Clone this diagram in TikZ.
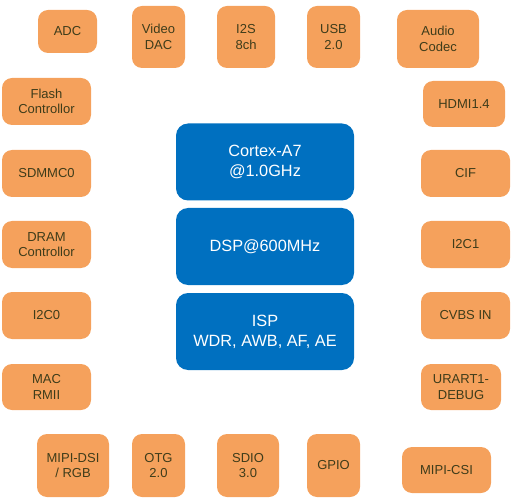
\documentclass[tikz,border=0pt]{standalone}
\usepackage{fontspec}
\setmainfont{Liberation Sans}
\usetikzlibrary{positioning}

\definecolor{periph_orange}{RGB}{245,161,92}
\definecolor{periph_text}{RGB}{62,60,26}
\definecolor{core_blue}{RGB}{0,112,192}

\begin{document}
\begin{tikzpicture}[
    x=1pt, y=-1pt,
    periph_style/.style={rectangle, rounded corners=10pt, fill=periph_orange,
        text=periph_text, font=\fontsize{13}{15.5}\selectfont, align=center,
        inner sep=0pt},
    core_style/.style={rectangle, rounded corners=12pt, fill=core_blue,
        text=white, font=\fontsize{16.3}{20}\selectfont, align=center,
        inner sep=0pt, minimum width=178pt, minimum height=77pt}
]

    \useasboundingbox (0,0) rectangle (513,502);

    % Cores in the middle
    \node[core_style] (cpu) at (265,162) {Cortex-A7\\@1.0GHz};
    \node[core_style] (dsp) at (265,246.5) {DSP@600MHz};
    \node[core_style] (isp) at (265,331.5) {ISP\\WDR, AWB, AF, AE};

    % Top row
    \node[periph_style, minimum width=59pt, minimum height=43pt] (adc) at (67.5,31.5) {ADC};
    \node[periph_style, minimum width=53pt, minimum height=62pt] (vdac) at (158.5,37) {Video\\DAC};
    \node[periph_style, minimum width=58pt, minimum height=62pt] (i2s) at (246,37) {I2S\\8ch};
    \node[periph_style, minimum width=53pt, minimum height=62pt] (usb) at (333.5,37) {USB\\2.0};
    \node[periph_style, minimum width=82pt, minimum height=58pt] (codec) at (438,39) {Audio\\Codec};

    % Left column
    \node[periph_style, minimum width=89pt, minimum height=47pt] (flash) at (46.5,101.5) {Flash\\Controllor};
    \node[periph_style, minimum width=89pt, minimum height=47pt] (sdmmc) at (46.5,173.5) {SDMMC0};
    \node[periph_style, minimum width=89pt, minimum height=47pt] (dram) at (46.5,244.5) {DRAM\\Controllor};
    \node[periph_style, minimum width=89pt, minimum height=47pt] (i2c0) at (46.5,315.5) {I2C0};
    \node[periph_style, minimum width=89pt, minimum height=46pt] (mac) at (46.5,387) {MAC\\RMII};

    % Right column
    \node[periph_style, minimum width=82pt, minimum height=46pt] (hdmi) at (464,104) {HDMI1.4};
    \node[periph_style, minimum width=89pt, minimum height=47pt] (cif) at (465.5,173.5) {CIF};
    \node[periph_style, minimum width=89pt, minimum height=47pt] (i2c1) at (465.5,244.5) {I2C1};
    \node[periph_style, minimum width=89pt, minimum height=47pt] (cvbs) at (465.5,315.5) {CVBS IN};
    \node[periph_style, minimum width=80pt, minimum height=46pt] (uart) at (461,387) {URART1-\\DEBUG};

    % Bottom row
    \node[periph_style, minimum width=72pt, minimum height=63pt] (mipidsi) at (73,465.5) {MIPI-DSI\\/ RGB};
    \node[periph_style, minimum width=53pt, minimum height=63pt] (otg) at (158.5,465.5) {OTG\\2.0};
    \node[periph_style, minimum width=62pt, minimum height=63pt] (sdio) at (248,465.5) {SDIO\\3.0};
    \node[periph_style, minimum width=53pt, minimum height=63pt] (gpio) at (333.5,465.5) {GPIO};
    \node[periph_style, minimum width=89pt, minimum height=46pt] (csi) at (446.5,470) {MIPI-CSI};

\end{tikzpicture}
\end{document}
